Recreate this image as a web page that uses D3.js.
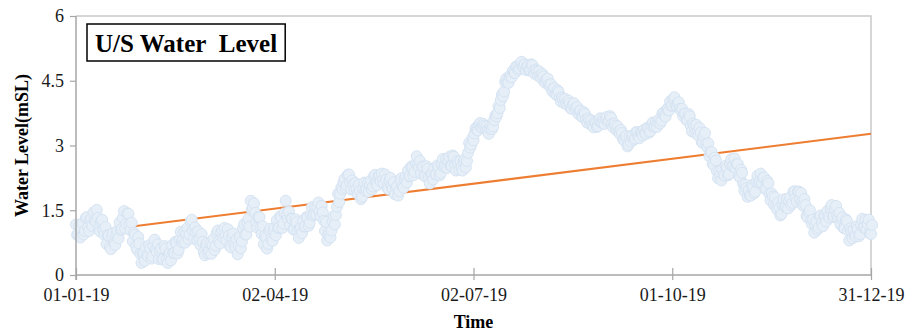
<!DOCTYPE html>
<html>
<head>
<meta charset="utf-8">
<script src="https://cdn.jsdelivr.net/npm/d3@7"></script>
<style>
  body { margin: 0; background: #fff; }
  svg { display: block; }
</style>
</head>
<body>
<svg id="chart" width="917" height="333"></svg>
<script>
// upstream water level (mSL), two readings a day (00:00 and 12:00) from 01-01-2019
const firstDay = "2019-01-01";
const levelMidnight = [
  1.17, 0.95, 0.87, 1.20, 1.02, 1.34, 1.02, 1.31, 1.45, 1.25,
  1.32, 1.01, 1.28, 0.93, 0.72, 0.91, 0.60, 0.97, 0.70, 1.03,
  1.22, 1.07, 1.48, 1.19, 1.42, 1.03, 0.78, 0.93, 0.58, 0.73,
  0.28, 0.51, 0.64, 0.43, 0.62, 0.43, 0.82, 0.53, 0.37, 0.62,
  0.37, 0.61, 0.28, 0.52, 0.69, 0.51, 0.74, 0.58, 1.00, 0.81,
  0.75, 1.09, 0.94, 1.28, 0.84, 0.99, 1.01, 0.69, 0.77, 0.46,
  0.74, 0.55, 0.49, 0.84, 0.68, 1.03, 0.73, 1.04, 1.09, 0.80,
  0.91, 0.64, 0.96, 0.65, 0.48, 0.88, 0.78, 1.18, 0.94, 1.30,
  1.72, 1.55, 1.44, 1.10, 1.34, 0.95, 0.71, 0.87, 0.72, 1.07,
  0.79, 1.10, 1.27, 1.10, 1.33, 1.19, 1.72, 1.30, 1.15, 1.30,
  1.05, 1.22, 0.86, 1.11, 1.26, 1.13, 1.33, 1.21, 1.57, 1.42,
  1.40, 1.68, 1.36, 1.45, 1.02, 0.80, 0.98, 1.03, 1.36, 1.39,
  1.88, 1.88, 1.99, 2.23, 2.08, 2.33, 1.98, 2.11, 2.13, 1.88,
  1.95, 1.81, 2.14, 1.98, 1.93, 2.19, 2.05, 2.32, 2.08, 2.31,
  2.35, 2.12, 2.21, 1.99, 2.25, 2.00, 1.87, 2.05, 1.94, 2.24,
  2.02, 2.28, 2.42, 2.30, 2.50, 2.39, 2.75, 2.49, 2.35, 2.51,
  2.28, 2.46, 2.12, 2.35, 2.47, 2.33, 2.50, 2.36, 2.69, 2.53,
  2.48, 2.74, 2.53, 2.74, 2.42, 2.58, 2.64, 2.42, 2.68, 2.64,
  3.06, 3.02, 3.12, 3.40, 3.35, 3.52, 3.41, 3.46, 3.44, 3.27,
  3.44, 3.44, 3.69, 3.75, 3.87, 4.18, 4.25, 4.55, 4.45, 4.63,
  4.73, 4.68, 4.83, 4.79, 4.94, 4.81, 4.75, 4.86, 4.75, 4.86,
  4.66, 4.72, 4.72, 4.56, 4.60, 4.45, 4.55, 4.37, 4.26, 4.33,
  4.18, 4.24, 4.02, 4.07, 4.08, 3.94, 3.98, 3.85, 3.98, 3.83,
  3.73, 3.81, 3.66, 3.73, 3.53, 3.59, 3.58, 3.42, 3.52, 3.45,
  3.63, 3.53, 3.50, 3.66, 3.58, 3.64, 3.42, 3.46, 3.44, 3.27,
  3.29, 3.12, 3.22, 3.02, 3.09, 3.24, 3.16, 3.31, 3.17, 3.30,
  3.36, 3.27, 3.39, 3.33, 3.53, 3.44, 3.43, 3.60, 3.57, 3.76,
  3.67, 3.86, 4.02, 3.93, 4.12, 3.91, 4.00, 3.81, 3.68, 3.74,
  3.57, 3.68, 3.33, 3.46, 3.48, 3.23, 3.30, 3.06, 3.29, 2.96,
  2.75, 2.85, 2.54, 2.65, 2.24, 2.31, 2.44, 2.30, 2.48, 2.34,
  2.68, 2.52, 2.48, 2.57, 2.26, 2.37, 1.95, 2.01, 1.96, 1.84,
  2.04, 1.93, 2.30, 2.16, 2.14, 2.26, 1.98, 2.12, 1.73, 1.82,
  1.80, 1.52, 1.55, 1.41, 1.75, 1.58, 1.54, 1.80, 1.67, 1.94,
  1.70, 1.93, 1.90, 1.60, 1.62, 1.33, 1.50, 1.18, 0.98, 1.24,
  1.10, 1.38, 1.13, 1.36, 1.48, 1.33, 1.62, 1.37, 1.60, 1.32,
  1.17, 1.33, 1.08, 1.25, 0.80, 1.02, 1.04, 0.89, 1.07, 0.94,
  1.30, 1.11, 1.06, 1.28, 0.95
];
const levelNoon = [
  0.93, 1.13, 1.07, 0.94, 1.32, 1.10, 1.28, 1.13, 1.27, 1.51,
  1.08, 1.25, 1.04, 1.11, 0.92, 0.65, 0.90, 0.73, 0.96, 0.85,
  1.04, 1.33, 1.08, 1.43, 1.18, 1.21, 0.98, 0.67, 0.88, 0.49,
  0.50, 0.33, 0.46, 0.69, 0.38, 0.67, 0.58, 0.71, 0.57, 0.36,
  0.67, 0.37, 0.48, 0.34, 0.51, 0.77, 0.50, 0.82, 0.76, 0.99,
  0.95, 0.83, 1.24, 1.04, 1.10, 0.81, 0.83, 0.95, 0.53, 0.70,
  0.50, 0.73, 0.69, 0.58, 0.98, 0.79, 0.99, 0.86, 0.91, 1.06,
  0.67, 0.88, 0.72, 0.83, 0.68, 0.62, 1.08, 0.94, 1.20, 1.12,
  1.51, 1.66, 1.20, 1.34, 1.10, 1.13, 0.91, 0.61, 1.02, 0.83,
  1.05, 0.92, 1.09, 1.36, 1.09, 1.43, 1.38, 1.47, 1.31, 1.06,
  1.29, 1.03, 1.07, 0.97, 1.12, 1.34, 1.14, 1.40, 1.38, 1.57,
  1.56, 1.47, 1.60, 1.26, 1.23, 0.93, 0.87, 1.24, 1.17, 1.58,
  1.69, 2.03, 2.15, 2.02, 2.32, 2.14, 2.19, 1.97, 1.99, 2.09,
  1.76, 2.00, 1.95, 2.13, 2.09, 1.98, 2.29, 2.13, 2.29, 2.17,
  2.21, 2.33, 2.02, 2.18, 2.06, 2.15, 2.03, 1.84, 2.18, 2.05,
  2.23, 2.14, 2.28, 2.51, 2.31, 2.58, 2.56, 2.64, 2.51, 2.30,
  2.52, 2.27, 2.33, 2.21, 2.33, 2.54, 2.31, 2.55, 2.50, 2.68,
  2.64, 2.53, 2.77, 2.55, 2.63, 2.44, 2.50, 2.63, 2.49, 2.83,
  2.95, 3.17, 3.28, 3.36, 3.48, 3.43, 3.50, 3.38, 3.36, 3.39,
  3.38, 3.59, 3.67, 3.91, 4.05, 4.14, 4.47, 4.47, 4.60, 4.58,
  4.68, 4.83, 4.75, 4.90, 4.83, 4.88, 4.83, 4.74, 4.88, 4.73,
  4.76, 4.62, 4.62, 4.66, 4.47, 4.53, 4.41, 4.42, 4.32, 4.19,
  4.28, 4.10, 4.11, 3.98, 3.99, 4.04, 3.86, 3.95, 3.86, 3.89,
  3.80, 3.67, 3.77, 3.60, 3.63, 3.49, 3.48, 3.55, 3.43, 3.57,
  3.53, 3.62, 3.61, 3.55, 3.68, 3.50, 3.51, 3.35, 3.33, 3.36,
  3.14, 3.20, 2.98, 3.21, 3.19, 3.13, 3.31, 3.21, 3.30, 3.23,
  3.29, 3.41, 3.30, 3.46, 3.44, 3.54, 3.54, 3.51, 3.74, 3.69,
  3.83, 3.81, 3.92, 4.08, 3.94, 3.98, 3.85, 3.85, 3.74, 3.59,
  3.73, 3.46, 3.51, 3.29, 3.31, 3.41, 3.08, 3.22, 3.04, 3.05,
  2.85, 2.58, 2.72, 2.40, 2.39, 2.19, 2.32, 2.53, 2.31, 2.56,
  2.52, 2.70, 2.57, 2.30, 2.44, 2.11, 2.09, 1.81, 1.85, 2.08,
  1.89, 2.16, 2.14, 2.35, 2.25, 2.00, 2.18, 1.88, 1.89, 1.63,
  1.62, 1.68, 1.38, 1.63, 1.58, 1.76, 1.72, 1.62, 1.93, 1.78,
  1.93, 1.74, 1.71, 1.76, 1.37, 1.46, 1.26, 1.28, 1.16, 1.05,
  1.36, 1.21, 1.36, 1.24, 1.36, 1.56, 1.34, 1.53, 1.38, 1.44,
  1.30, 1.09, 1.29, 1.03, 1.08, 0.85, 0.92, 1.13, 0.90, 1.15,
  1.10, 1.28, 1.18, 0.96, 1.16
];

// linear trend line, value at first and last day
const trendDates = ["2019-01-01", "2019-12-31"];
const trendValues = [0.96, 3.27];

const xTickDates = ["2019-01-01", "2019-04-02", "2019-07-02", "2019-10-01", "2019-12-31"];
const yTicks = [0, 1.5, 3, 4.5, 6];

const title = "U/S Water\u00a0\u00a0Level";
const xTitle = "Time";
const yTitle = "Water Level(mSL)";

const width = 917, height = 333;
const margin = { top: 16, right: 46, bottom: 58, left: 76 };
const innerW = width - margin.left - margin.right;
const innerH = height - margin.top - margin.bottom;

const parse = d3.utcParse("%Y-%m-%d");
const start = parse(firstDay);
const data = [];
levelMidnight.forEach((v, i) => {
  const day = d3.utcDay.offset(start, i);
  data.push({ date: day, value: v });
  data.push({ date: d3.utcHour.offset(day, 12), value: levelNoon[i] });
});

const svg = d3.select("#chart");
const g = svg.append("g").attr("transform", `translate(${margin.left},${margin.top})`);

const x = d3.scaleUtc()
  .domain([parse(xTickDates[0]), parse(xTickDates[xTickDates.length - 1])])
  .range([0, innerW]);

const y = d3.scaleLinear()
  .domain([0, 6])
  .range([innerH, 0]);

const font = "'Liberation Serif', 'Times New Roman', serif";

// plot frame (top and right)
g.append("path")
  .attr("d", `M0,0H${innerW}V${innerH}`)
  .attr("fill", "none")
  .attr("stroke", "#c9c9c9")
  .attr("stroke-width", 1.5);

// trend line (below the markers)
const trend = trendDates.map((d, i) => ({ date: parse(d), value: trendValues[i] }));
g.append("path")
  .datum(trend)
  .attr("fill", "none")
  .attr("stroke", "#ed7d31")
  .attr("stroke-width", 2)
  .attr("d", d3.line().x(d => x(d.date)).y(d => y(d.value)));

// markers
g.append("g")
  .selectAll("circle")
  .data(data)
  .enter()
  .append("circle")
  .attr("cx", d => x(d.date))
  .attr("cy", d => y(d.value))
  .attr("r", 5.5)
  .attr("fill", "#e6eff8")
  .attr("stroke", "#d3e1f1")
  .attr("stroke-width", 0.9);

// y axis
const yAxis = g.append("g")
  .call(d3.axisLeft(y).tickValues(yTicks).tickSize(6).tickFormat(d3.format("")));
yAxis.select(".domain").attr("stroke", "#a6a6a6").attr("stroke-width", 1.5)
  .attr("d", `M0,${innerH + 5}V0`);
yAxis.selectAll(".tick line").attr("stroke", "#a6a6a6").attr("stroke-width", 1.2);
yAxis.selectAll(".tick text")
  .attr("x", -12)
  .style("font-family", font)
  .style("font-size", "18px")
  .attr("fill", "#1a1a1a");

// x axis with crossing ticks
const xAxis = g.append("g")
  .attr("transform", `translate(0,${innerH})`)
  .call(d3.axisBottom(x)
    .tickValues(xTickDates.map(parse))
    .tickSize(5)
    .tickFormat(d3.utcFormat("%d-%m-%y")));
xAxis.select(".domain").attr("stroke", "#a6a6a6").attr("stroke-width", 1.5)
  .attr("d", `M0,0H${innerW}`);
xAxis.selectAll(".tick line")
  .attr("stroke", "#a6a6a6")
  .attr("stroke-width", 1.2)
  .attr("y1", -7)
  .attr("y2", 5);
xAxis.selectAll(".tick text")
  .attr("y", 13)
  .style("font-family", font)
  .style("font-size", "18px")
  .attr("fill", "#1a1a1a");

// axis titles
svg.append("text")
  .attr("x", margin.left + x(parse("2019-07-02")))
  .attr("y", 328)
  .attr("text-anchor", "middle")
  .style("font-family", font)
  .style("font-size", "18px")
  .style("font-weight", "bold")
  .text(xTitle);

svg.append("text")
  .attr("transform", `translate(28,${margin.top + innerH / 2}) rotate(-90)`)
  .attr("text-anchor", "middle")
  .style("font-family", font)
  .style("font-size", "18px")
  .style("font-weight", "bold")
  .text(yTitle);

// title box
const titleG = svg.append("g");
const titleText = titleG.append("text")
  .attr("x", 95)
  .attr("y", 52)
  .style("font-family", font)
  .style("font-size", "25px")
  .style("font-weight", "bold")
  .text(title);
const bb = titleText.node().getBBox();
titleG.insert("rect", "text")
  .attr("x", 87)
  .attr("y", 24)
  .attr("width", bb.width + 16)
  .attr("height", 37)
  .attr("fill", "#fff")
  .attr("stroke", "#000")
  .attr("stroke-width", 1.5);
</script>
</body>
</html>
